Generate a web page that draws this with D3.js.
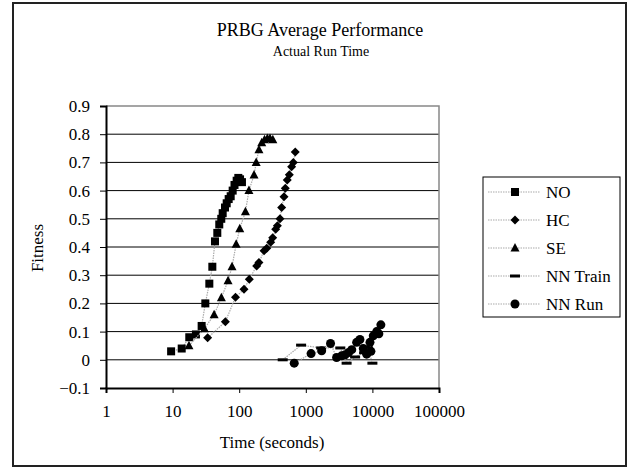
<!DOCTYPE html>
<html>
<head>
<meta charset="utf-8">
<script src="https://cdn.jsdelivr.net/npm/d3@7"></script>
<style>
  body { margin: 0; background: #fff; }
  svg text { font-family: "Liberation Serif", Tinos, "Times New Roman", Times, "DejaVu Serif", serif; fill: #000; }
</style>
</head>
<body>
<script>
// values (time in seconds, fitness)
const noTime = [9.5, 13.7, 17.8, 22.4, 27.3, 31, 35.6, 39.5, 43.3, 46.9, 50.2, 53.8, 56.5, 61.2, 64.9, 69.5, 74.5, 79.8, 85, 91.6, 97, 103, 110];
const noFit = [0.03, 0.04, 0.08, 0.09, 0.12, 0.2, 0.27, 0.33, 0.42, 0.45, 0.48, 0.5, 0.52, 0.54, 0.555, 0.57, 0.58, 0.6, 0.62, 0.635, 0.645, 0.64, 0.63];

const hcTime = [33.6, 62, 88, 118, 142, 183, 198, 236, 259, 297, 318, 353, 374, 410, 434, 471, 492, 527, 565, 613, 649, 695];
const hcFit = [0.078, 0.135, 0.222, 0.25, 0.286, 0.333, 0.345, 0.387, 0.396, 0.417, 0.433, 0.463, 0.475, 0.5, 0.54, 0.578, 0.608, 0.638, 0.656, 0.685, 0.7, 0.737];

const seTime = [17.6, 30, 42, 54, 68, 78, 90, 102, 124, 140, 167, 180, 198, 218, 240, 265, 290, 320];
const seFit = [0.05, 0.11, 0.16, 0.22, 0.28, 0.33, 0.41, 0.465, 0.525, 0.6, 0.655, 0.7, 0.745, 0.77, 0.78, 0.785, 0.785, 0.78];

const trainTime = [450, 850, 1700, 3300, 4100, 5500, 7500, 8500, 10000];
const trainFit = [0.0, 0.052, 0.042, 0.042, -0.012, 0.01, 0.025, 0.045, -0.012];

const runTime = [670, 1200, 1730, 2350, 2900, 3450, 3900, 4400, 4900, 5800, 6500, 7300, 8200, 9500, 9200, 10300, 11600, 12500, 13400];
const runFit = [-0.012, 0.022, 0.032, 0.058, 0.008, 0.014, 0.018, 0.026, 0.036, 0.062, 0.072, 0.04, 0.02, 0.03, 0.062, 0.085, 0.1, 0.092, 0.124];

const seriesNames = ["NO", "HC", "SE", "NN Train", "NN Run"];
const xTicks = [1, 10, 100, 1000, 10000, 100000];
const yTicks = [-0.1, 0, 0.1, 0.2, 0.3, 0.4, 0.5, 0.6, 0.7, 0.8, 0.9];

const series = [
  { name: seriesNames[0], shape: "square", t: noTime, v: noFit },
  { name: seriesNames[1], shape: "diamond", t: hcTime, v: hcFit },
  { name: seriesNames[2], shape: "triangle", t: seTime, v: seFit },
  { name: seriesNames[3], shape: "dash", t: trainTime, v: trainFit },
  { name: seriesNames[4], shape: "circle", t: runTime, v: runFit }
];

const width = 631, height = 475;
const svg = d3.select("body").append("svg")
  .attr("width", width)
  .attr("height", height);

// outer frame
svg.append("rect")
  .attr("x", 13).attr("y", 3)
  .attr("width", 613).attr("height", 463)
  .attr("fill", "#fff")
  .attr("stroke", "#222")
  .attr("stroke-width", 2);

const x = d3.scaleLog().domain([1, 100000]).range([106, 439]);
const y = d3.scaleLinear().domain([-0.1, 0.9]).range([388, 106]);

// gridlines
svg.append("g")
  .selectAll("line")
  .data(yTicks.slice(1, -1))
  .join("line")
    .attr("x1", x(1)).attr("x2", x(100000))
    .attr("y1", d => y(d)).attr("y2", d => y(d))
    .attr("stroke", "#000")
    .attr("stroke-width", 1);

// plot border top/right
svg.append("path")
  .attr("d", `M${x(1)},${y(0.9)}H${x(100000)}V${y(-0.1)}`)
  .attr("fill", "none")
  .attr("stroke", "#888")
  .attr("stroke-width", 1.5);

const xAxis = svg.append("g")
  .attr("transform", `translate(0,${y(-0.1)})`)
  .call(d3.axisBottom(x).tickValues(xTicks).tickFormat(d3.format("d")).tickSize(5).tickPadding(12));

const yAxis = svg.append("g")
  .attr("transform", `translate(${x(1)},0)`)
  .call(d3.axisLeft(y).tickValues(yTicks).tickFormat(d => d === 0 ? "0" : d3.format(".1f")(d)).tickSize(6).tickPadding(10));

[xAxis, yAxis].forEach(g => {
  g.attr("font-family", null);
  g.select(".domain").attr("stroke", "#000").attr("stroke-width", 2);
  g.selectAll(".tick line").attr("stroke", "#000");
  g.selectAll(".tick text").attr("font-size", 17);
});

// titles
svg.append("text")
  .attr("x", 320).attr("y", 36)
  .attr("text-anchor", "middle")
  .attr("font-size", 18)
  .text("PRBG Average Performance");
svg.append("text")
  .attr("x", 321).attr("y", 56)
  .attr("text-anchor", "middle")
  .attr("font-size", 14)
  .text("Actual Run Time");
svg.append("text")
  .attr("x", 272).attr("y", 448)
  .attr("text-anchor", "middle")
  .attr("font-size", 17)
  .text("Time (seconds)");
svg.append("text")
  .attr("transform", "translate(43,248) rotate(-90)")
  .attr("text-anchor", "middle")
  .attr("font-size", 17)
  .text("Fitness");

function marker(g, shape) {
  if (shape === "square") {
    g.append("rect").attr("x", -4).attr("y", -4).attr("width", 8).attr("height", 8);
  } else if (shape === "diamond") {
    g.append("path").attr("d", "M0,-4.5L4.5,0L0,4.5L-4.5,0Z");
  } else if (shape === "triangle") {
    g.append("path").attr("d", "M0,-5L4.5,3.5L-4.5,3.5Z");
  } else if (shape === "dash") {
    g.append("rect").attr("x", -5).attr("y", -1.5).attr("width", 10).attr("height", 3);
  } else {
    g.append("circle").attr("r", 4.5);
  }
}

const line = d3.line().x(d => x(d[0])).y(d => y(d[1]));

series.forEach(s => {
  const pts = s.t.map((t, i) => [t, s.v[i]]);
  svg.append("path")
    .datum(pts)
    .attr("d", line)
    .attr("fill", "none")
    .attr("stroke", "#aaa")
    .attr("stroke-width", 1.2)
    .attr("stroke-dasharray", "1.5,1");
  svg.append("g")
    .selectAll("g")
    .data(pts)
    .join("g")
      .attr("transform", d => `translate(${x(d[0])},${y(d[1])})`)
      .attr("fill", "#000")
      .each(function() { marker(d3.select(this), s.shape); });
});

// legend
const legend = svg.append("g");
legend.append("rect")
  .attr("x", 483).attr("y", 177)
  .attr("width", 137).attr("height", 140)
  .attr("fill", "#fff")
  .attr("stroke", "#000")
  .attr("stroke-width", 1);

series.forEach((s, i) => {
  const cy = 192 + i * 28;
  const row = legend.append("g");
  row.append("line")
    .attr("x1", 488).attr("x2", 540)
    .attr("y1", cy).attr("y2", cy)
    .attr("stroke", "#aaa")
    .attr("stroke-width", 1.2)
    .attr("stroke-dasharray", "1.5,1");
  const m = row.append("g")
    .attr("transform", `translate(515,${cy})`)
    .attr("fill", "#000");
  marker(m, s.shape);
  row.append("text")
    .attr("x", 546).attr("y", cy + 6)
    .attr("font-size", 17)
    .text(s.name);
});
</script>
</body>
</html>
